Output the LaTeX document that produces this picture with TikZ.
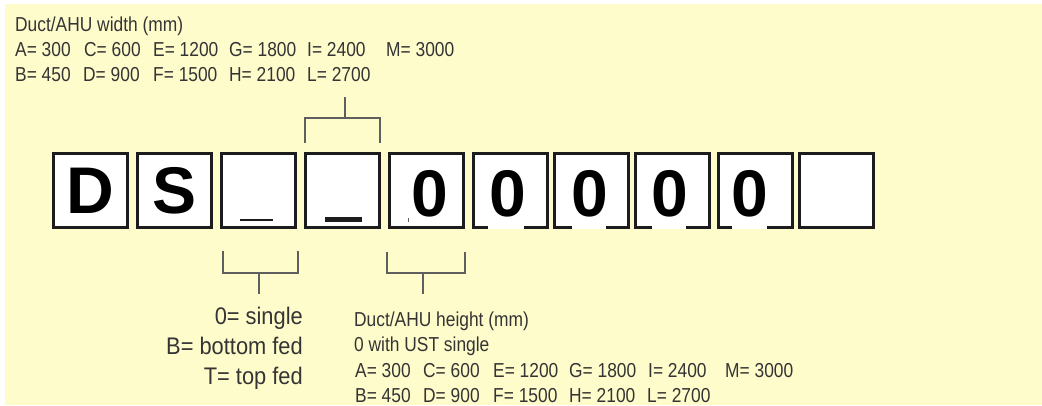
\documentclass[tikz,border=0pt]{standalone}
\usepackage{fontspec}
\setmainfont{Liberation Sans}
\usetikzlibrary{calc}
\definecolor{bg}{RGB}{255,252,204}
\definecolor{txt}{RGB}{52,52,52}
\definecolor{brk}{RGB}{95,95,95}
\definecolor{edge}{RGB}{28,28,28}
\newcommand{\sq}[1]{\scalebox{0.86}[1]{#1}}
\newcommand{\sm}[1]{\scalebox{0.91}[1]{#1}}
\begin{document}
\begin{tikzpicture}[x=1pt,y=-1pt,
  cell/.style={draw=edge, line width=2.6pt, fill=white, minimum width=74.4pt, minimum height=74.4pt, inner sep=0pt, outer sep=0pt},
  big/.style={font=\fontsize{66}{66}\selectfont\bfseries, text=black, inner sep=0pt},
  small/.style={font=\fontsize{20.2}{22}\selectfont, text=txt, inner sep=0pt, anchor=base west},
  mid/.style={font=\fontsize{24}{26}\selectfont, text=txt, inner sep=0pt, anchor=base east},
  brack/.style={draw=brk, line width=1.8pt}]
\path[use as bounding box, fill=white] (0,0) rectangle (1042,405);
\fill[bg] (5,4) rectangle (1042,405);

% top legend
\node[small] (wt) at (15,31) {\sq{Duct/AHU width (mm)}};
\node[small] (wa) at (15,56) {\sq{A= 300}};
\node[small] (wc) at (84,56) {\sq{C= 600}};
\node[small] (we) at (153,56) {\sq{E= 1200}};
\node[small] (wg) at (229,56) {\sq{G= 1800}};
\node[small] (wi) at (307,56) {\sq{I= 2400}};
\node[small] (wm) at (386,56) {\sq{M= 3000}};
\node[small] (wb) at (15,81) {\sq{B= 450}};
\node[small] (wd) at (83,81) {\sq{D= 900}};
\node[small] (wf) at (153,81) {\sq{F= 1500}};
\node[small] (wh) at (229,81) {\sq{H= 2100}};
\node[small] (wl) at (307,81) {\sq{L= 2700}};

% boxes
\foreach \cx [count=\i] in {90.5,174.5,258.5,342.5,426.5,510.5,591.5,672.5,755.5,836.5}
  \node[cell] (b\i) at (\cx,190.5) {};

\node[big] (lD) at (b1) {D};
\node[big] (lS) at (b2) {S};
\draw[edge, line width=2.6pt] (240,220) -- (273,220);
\draw[edge, line width=4.6pt] (325,219.5) -- (362,219.5);
\node[big] (z5) at ($(b5)+(3.5,3)$) {0};
\node[big] (z6) at ($(b6)+(-3,3)$) {0};
\node[big] (z7) at ($(b7)+(-2,3)$) {0};
\node[big] (z8) at ($(b8)+(-3,3)$) {0};
\node[big] (z9) at ($(b9)+(-6,3)$) {0};
\fill[edge!70] (407.5,217.5) rectangle (409,222);
% white gaps in bottom borders under the zeros
\foreach \ga/\gb in {488/524,572/606,652/686,732/767}
  \fill[white] (\ga,226.2) rectangle (\gb,229.4);

% top bracket
\coordinate (tl) at (305,143);
\coordinate (tr) at (380,143);
\coordinate (tm) at (345,118);
\coordinate (ts) at (345,97);
\draw[brack] (tl) -- (tl|-tm) -- (tr|-tm) -- (tr);
\draw[brack] (tm) -- (ts);

% bottom brackets
\coordinate (l1) at (223,251);
\coordinate (l2) at (298,251);
\coordinate (lm) at (259,273);
\coordinate (ls) at (259,294);
\draw[brack] (l1) -- (l1|-lm) -- (l2|-lm) -- (l2);
\draw[brack] (lm) -- (ls);
\coordinate (r1) at (387,252);
\coordinate (r2) at (465,252);
\coordinate (rm) at (423,273);
\coordinate (rs) at (423,294);
\draw[brack] (r1) -- (r1|-rm) -- (r2|-rm) -- (r2);
\draw[brack] (rm) -- (rs);

% bottom left labels
\node[mid] (s0) at (303,324) {\sm{0= single}};
\node[mid] (sB) at (303,354) {\sm{B= bottom fed}};
\node[mid] (sT) at (303,384) {\sm{T= top fed}};

% bottom right legend
\node[small] (ht) at (354,326) {\sq{Duct/AHU height (mm)}};
\node[small] (hu) at (354,351) {\sq{0 with UST single}};
\node[small] (ha) at (355,377) {\sq{A= 300}};
\node[small] (hc) at (423,377) {\sq{C= 600}};
\node[small] (he) at (493,377) {\sq{E= 1200}};
\node[small] (hg) at (569,377) {\sq{G= 1800}};
\node[small] (hi) at (648,377) {\sq{I= 2400}};
\node[small] (hm) at (725,377) {\sq{M= 3000}};
\node[small] (hb) at (355,402) {\sq{B= 450}};
\node[small] (hd) at (423,402) {\sq{D= 900}};
\node[small] (hf) at (493,402) {\sq{F= 1500}};
\node[small] (hh) at (569,402) {\sq{H= 2100}};
\node[small] (hl) at (647,402) {\sq{L= 2700}};
\end{tikzpicture}
\end{document}
